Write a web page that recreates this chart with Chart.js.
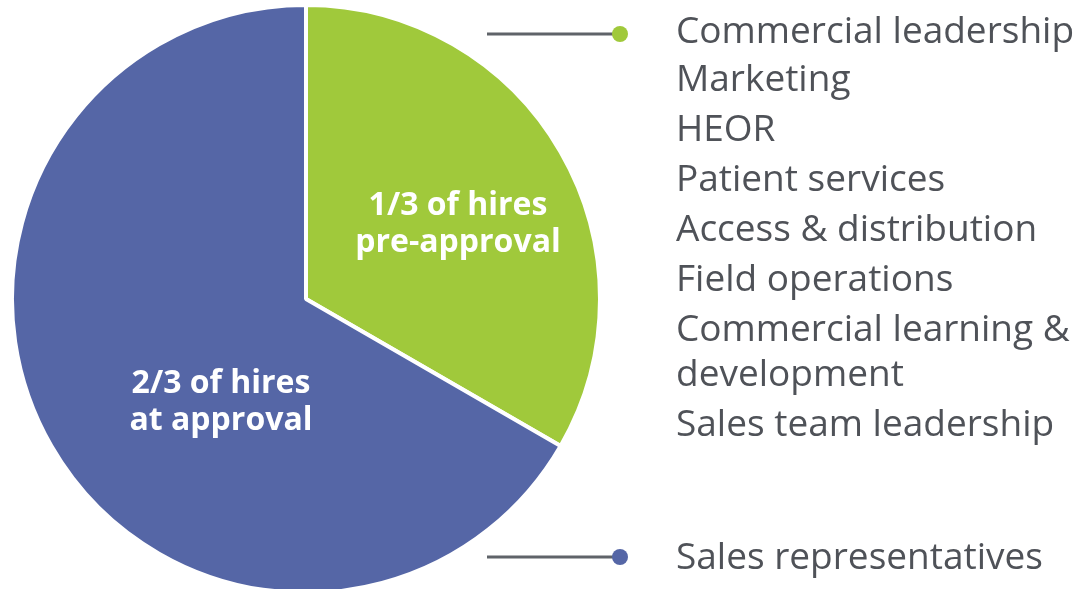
<!DOCTYPE html>
<html>
<head>
<meta charset="utf-8">
<script src="https://cdn.jsdelivr.net/npm/chart.js@4"></script>
<style>
  html, body { margin:0; padding:0; background:#fff; overflow:hidden; }
  #wrap { width:1081px; height:589px; position:relative; overflow:hidden; }
</style>
</head>
<body>
<div id="wrap"><canvas id="hires" width="1081" height="600"></canvas></div>
<script>
// ── Data ──────────────────────────────────────────────────────────────────────
const segments   = ['1/3 of hires pre-approval', '2/3 of hires at approval'];
const shares     = [1, 2];
const segColors  = ['#a0c93b', '#5566a6'];
const segLabels  = [['1/3 of hires', 'pre-approval'], ['2/3 of hires', 'at approval']];

const preRoles   = ['Commercial leadership', 'Marketing', 'HEOR', 'Patient services',
                    'Access & distribution', 'Field operations', 'Commercial learning &',
                    'development', 'Sales team leadership'];
const atRoles    = ['Sales representatives'];

// ── Annotation plugin: slice labels, leader lines, role lists ─────────────────
const annot = {
  id: 'annot',
  afterDraw(chart) {
    const ctx = chart.ctx;
    ctx.save();

    // slice labels
    ctx.fillStyle = '#fff';
    ctx.font = 'bold 32px "Open Sans"';
    ctx.textAlign = 'center';
    ctx.textBaseline = 'alphabetic';
    const labelPos = [{ x: 458, y: 215 }, { x: 221, y: 393 }];
    segLabels.forEach((lines, i) => {
      lines.forEach((t, j) => ctx.fillText(t, labelPos[i].x, labelPos[i].y + j * 37));
    });

    // leader lines + dots
    const leaders = [{ y: 34, c: segColors[0] }, { y: 557, c: segColors[1] }];
    leaders.forEach(l => {
      ctx.strokeStyle = '#5f6369';
      ctx.lineWidth = 3;
      ctx.beginPath();
      ctx.moveTo(487, l.y);
      ctx.lineTo(618, l.y);
      ctx.stroke();
      ctx.fillStyle = l.c;
      ctx.beginPath();
      ctx.arc(620, l.y, 8, 0, Math.PI * 2);
      ctx.fill();
    });

    // role lists
    ctx.fillStyle = '#4f5258';
    ctx.font = '37px "Open Sans"';
    ctx.textAlign = 'left';
    const baselines = [43, 91, 141, 191, 241, 291, 341, 386, 436];
    preRoles.forEach((t, i) => ctx.fillText(t, 676, baselines[i]));
    atRoles.forEach(t => ctx.fillText(t, 676, 569));

    ctx.restore();
  }
};

new Chart(document.getElementById('hires').getContext('2d'), {
  type: 'pie',
  data: {
    labels: segments,
    datasets: [{
      data: shares,
      backgroundColor: segColors,
      borderColor: '#fff',
      borderWidth: 4,
      hoverOffset: 0
    }]
  },
  options: {
    responsive: false,
    animation: false,
    layout: { padding: { left: 10, top: 3, right: 479, bottom: 5 } },
    plugins: { legend: { display: false }, tooltip: { enabled: false } }
  },
  plugins: [annot]
});
</script>
</body>
</html>
